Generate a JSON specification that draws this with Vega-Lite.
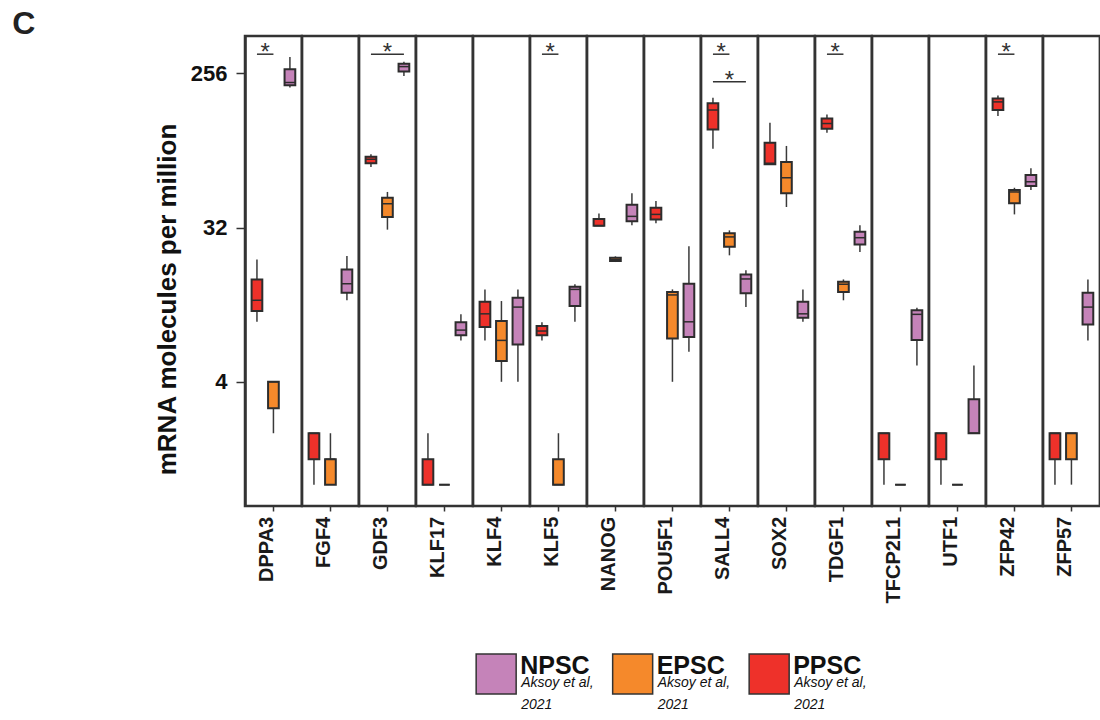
{
  "$schema": "https://vega.github.io/schema/vega-lite/v6.json",
  "padding": {"left": 12, "top": 7, "right": 0, "bottom": 0},
  "background": "white",
  "title": {"text": "C", "anchor": "start", "frame": "bounds", "fontSize": 32, "fontWeight": "bold", "color": "#222222", "dx": -142, "offset": -6},
  "datasets": {
    "main": [
      {"kind": "box", "gene": "DPPA3", "group": "PPSC", "min": 9.0, "q1": 10.4, "median": 12.0, "q3": 15.9, "max": 20.8},
      {"kind": "box", "gene": "DPPA3", "group": "EPSC", "min": 2.0, "q1": 2.8, "median": 4.0, "q3": 4.0, "max": 4.0},
      {"kind": "box", "gene": "DPPA3", "group": "NPSC", "min": 211, "q1": 218, "median": 226, "q3": 270, "max": 319},
      {"kind": "box", "gene": "FGF4", "group": "PPSC", "min": 1, "q1": 1.41, "median": 2, "q3": 2, "max": 2},
      {"kind": "box", "gene": "FGF4", "group": "EPSC", "min": 1, "q1": 1, "median": 1.41, "q3": 1.41, "max": 2},
      {"kind": "box", "gene": "FGF4", "group": "NPSC", "min": 12.0, "q1": 13.3, "median": 15.0, "q3": 18.2, "max": 21.8},
      {"kind": "box", "gene": "GDF3", "group": "PPSC", "min": 72.4, "q1": 76.1, "median": 80.3, "q3": 83.1, "max": 85.9},
      {"kind": "box", "gene": "GDF3", "group": "EPSC", "min": 31.1, "q1": 36.9, "median": 44.1, "q3": 47.8, "max": 51.7},
      {"kind": "box", "gene": "GDF3", "group": "NPSC", "min": 247, "q1": 262, "median": 280, "q3": 291, "max": 299},
      {"kind": "box", "gene": "KLF17", "group": "PPSC", "min": 1, "q1": 1, "median": 1, "q3": 1.41, "max": 2},
      {"kind": "box", "gene": "KLF17", "group": "EPSC", "min": 1, "q1": 1, "median": 1, "q3": 1, "max": 1},
      {"kind": "box", "gene": "KLF17", "group": "NPSC", "min": 6.99, "q1": 7.48, "median": 8.03, "q3": 8.94, "max": 9.93},
      {"kind": "box", "gene": "KLF4", "group": "PPSC", "min": 6.99, "q1": 8.36, "median": 10.0, "q3": 11.76, "max": 13.9},
      {"kind": "box", "gene": "KLF4", "group": "EPSC", "min": 4.0, "q1": 5.29, "median": 6.99, "q3": 9.07, "max": 11.88},
      {"kind": "box", "gene": "KLF4", "group": "NPSC", "min": 4.0, "q1": 6.62, "median": 10.95, "q3": 12.4, "max": 13.9},
      {"kind": "box", "gene": "KLF5", "group": "PPSC", "min": 6.99, "q1": 7.48, "median": 7.93, "q3": 8.48, "max": 8.94},
      {"kind": "box", "gene": "KLF5", "group": "EPSC", "min": 1, "q1": 1, "median": 1, "q3": 1.41, "max": 2},
      {"kind": "box", "gene": "KLF5", "group": "NPSC", "min": 8.98, "q1": 11.1, "median": 13.9, "q3": 14.4, "max": 14.9},
      {"kind": "box", "gene": "NANOG", "group": "PPSC", "min": 32.8, "q1": 32.8, "median": 32.8, "q3": 35.9, "max": 38.7},
      {"kind": "box", "gene": "NANOG", "group": "EPSC", "min": 20.1, "q1": 20.4, "median": 20.8, "q3": 21.3, "max": 21.7},
      {"kind": "box", "gene": "NANOG", "group": "NPSC", "min": 33.0, "q1": 34.8, "median": 37.2, "q3": 43.5, "max": 50.8},
      {"kind": "box", "gene": "POU5F1", "group": "PPSC", "min": 33.9, "q1": 35.7, "median": 38.2, "q3": 41.8, "max": 45.8},
      {"kind": "box", "gene": "POU5F1", "group": "EPSC", "min": 4.0, "q1": 7.18, "median": 12.9, "q3": 13.4, "max": 13.9},
      {"kind": "box", "gene": "POU5F1", "group": "NPSC", "min": 6.0, "q1": 7.31, "median": 8.98, "q3": 15.0, "max": 24.9},
      {"kind": "box", "gene": "SALL4", "group": "PPSC", "min": 92.6, "q1": 120, "median": 156, "q3": 171, "max": 184},
      {"kind": "box", "gene": "SALL4", "group": "EPSC", "min": 22.0, "q1": 24.7, "median": 28.2, "q3": 29.6, "max": 30.8},
      {"kind": "box", "gene": "SALL4", "group": "NPSC", "min": 10.95, "q1": 13.2, "median": 16.0, "q3": 17.0, "max": 17.97},
      {"kind": "box", "gene": "SOX2", "group": "PPSC", "min": 75.0, "q1": 75.0, "median": 76.0, "q3": 100.4, "max": 131.5},
      {"kind": "box", "gene": "SOX2", "group": "EPSC", "min": 42.2, "q1": 50.8, "median": 62.6, "q3": 77.4, "max": 96.1},
      {"kind": "box", "gene": "SOX2", "group": "NPSC", "min": 8.98, "q1": 9.48, "median": 10.0, "q3": 11.76, "max": 13.9},
      {"kind": "box", "gene": "TDGF1", "group": "PPSC", "min": 115, "q1": 121, "median": 130, "q3": 139, "max": 147},
      {"kind": "box", "gene": "TDGF1", "group": "EPSC", "min": 12.0, "q1": 13.4, "median": 14.9, "q3": 15.4, "max": 15.9},
      {"kind": "box", "gene": "TDGF1", "group": "NPSC", "min": 23.0, "q1": 25.5, "median": 27.9, "q3": 30.2, "max": 33.0},
      {"kind": "box", "gene": "TFCP2L1", "group": "PPSC", "min": 1, "q1": 1.41, "median": 2, "q3": 2, "max": 2},
      {"kind": "box", "gene": "TFCP2L1", "group": "EPSC", "min": 1, "q1": 1, "median": 1, "q3": 1, "max": 1},
      {"kind": "box", "gene": "TFCP2L1", "group": "NPSC", "min": 4.99, "q1": 7.02, "median": 9.93, "q3": 10.5, "max": 10.85},
      {"kind": "box", "gene": "UTF1", "group": "PPSC", "min": 1, "q1": 1.41, "median": 2, "q3": 2, "max": 2},
      {"kind": "box", "gene": "UTF1", "group": "EPSC", "min": 1, "q1": 1, "median": 1, "q3": 1, "max": 1},
      {"kind": "box", "gene": "UTF1", "group": "NPSC", "min": 2, "q1": 2, "median": 2, "q3": 3.16, "max": 4.99},
      {"kind": "box", "gene": "ZFP42", "group": "PPSC", "min": 144, "q1": 156, "median": 174, "q3": 182, "max": 190},
      {"kind": "box", "gene": "ZFP42", "group": "EPSC", "min": 38.2, "q1": 44.4, "median": 51.7, "q3": 53.1, "max": 54.7},
      {"kind": "box", "gene": "ZFP42", "group": "NPSC", "min": 53.1, "q1": 56.0, "median": 59.3, "q3": 65.0, "max": 71.1},
      {"kind": "box", "gene": "ZFP57", "group": "PPSC", "min": 1, "q1": 1.41, "median": 2, "q3": 2, "max": 2},
      {"kind": "box", "gene": "ZFP57", "group": "EPSC", "min": 1, "q1": 1.41, "median": 2, "q3": 2, "max": 2},
      {"kind": "box", "gene": "ZFP57", "group": "NPSC", "min": 6.99, "q1": 8.67, "median": 10.95, "q3": 13.3, "max": 15.9},
      {"kind": "sig", "gene": "DPPA3", "from": "PPSC", "to": "EPSC", "level": 331, "label": "*"},
      {"kind": "sig", "gene": "GDF3", "from": "PPSC", "to": "NPSC", "level": 331, "label": "*"},
      {"kind": "sig", "gene": "KLF5", "from": "PPSC", "to": "EPSC", "level": 331, "label": "*"},
      {"kind": "sig", "gene": "SALL4", "from": "PPSC", "to": "EPSC", "level": 331, "label": "*"},
      {"kind": "sig", "gene": "SALL4", "from": "PPSC", "to": "NPSC", "level": 228, "label": "*"},
      {"kind": "sig", "gene": "TDGF1", "from": "PPSC", "to": "EPSC", "level": 331, "label": "*"},
      {"kind": "sig", "gene": "ZFP42", "from": "PPSC", "to": "EPSC", "level": 331, "label": "*"}
    ],
    "legend": [
      {"group": "NPSC", "citation": "Aksoy et al,\n2021"},
      {"group": "EPSC", "citation": "Aksoy et al,\n2021"},
      {"group": "PPSC", "citation": "Aksoy et al,\n2021"}
    ]
  },
  "spacing": 47,
  "vconcat": [
    {
      "data": {"name": "main"},
      "facet": {
        "column": {
          "field": "gene", "type": "nominal",
          "sort": ["DPPA3", "FGF4", "GDF3", "KLF17", "KLF4", "KLF5", "NANOG", "POU5F1", "SALL4", "SOX2", "TDGF1", "TFCP2L1", "UTF1", "ZFP42", "ZFP57"],
          "header": {"title": null, "labelOrient": "bottom", "labelAngle": -90, "labelAlign": "right", "labelBaseline": "alphabetic", "labelFontSize": 20, "labelFontWeight": "bold", "labelColor": "#1a1a1a", "labelPadding": 5}
        }
      },
      "spacing": {"column": 0},
      "bounds": "flush",
      "spec": {
        "width": 56.87,
        "height": 470,
        "layer": [
          {
            "transform": [{"filter": "datum.kind === 'box'"}],
            "mark": {"type": "rule", "color": "#3a3a3a", "strokeWidth": 1.5},
            "encoding": {
              "x": {"field": "group", "type": "nominal", "scale": {"domain": ["PPSC", "EPSC", "NPSC"], "paddingInner": 0.35, "paddingOuter": 0.4}, "axis": {"values": ["EPSC"]}},
              "y": {"field": "min", "type": "quantitative", "title": "mRNA molecules per million", "scale": {"type": "log", "base": 2, "domain": [0.75, 423], "nice": false}, "axis": {"values": [4, 32, 256], "titleY": 263}},
              "y2": {"field": "max"}
            }
          },
          {
            "transform": [{"filter": "datum.kind === 'box'"}],
            "mark": {"type": "bar", "stroke": "#2d2d2d", "strokeWidth": 2, "opacity": 1},
            "encoding": {
              "x": {"field": "group", "type": "nominal"},
              "y": {"field": "q1", "type": "quantitative", "title": "mRNA molecules per million"},
              "y2": {"field": "q3"},
              "color": {"field": "group", "type": "nominal", "scale": {"domain": ["NPSC", "EPSC", "PPSC"], "range": ["#C583B9", "#F5892B", "#EE312A"]}, "legend": null}
            }
          },
          {
            "transform": [{"filter": "datum.kind === 'box'"}],
            "mark": {"type": "tick", "color": "#2d2d2d", "thickness": 1.5, "size": 10, "opacity": 1},
            "encoding": {
              "x": {"field": "group", "type": "nominal"},
              "y": {"field": "median", "type": "quantitative", "title": "mRNA molecules per million"}
            }
          },
          {
            "transform": [{"filter": "datum.kind === 'sig'"}],
            "mark": {"type": "rule", "color": "#333333", "strokeWidth": 1.5},
            "encoding": {
              "x": {"field": "from", "type": "nominal"},
              "x2": {"field": "to"},
              "y": {"field": "level", "type": "quantitative", "title": "mRNA molecules per million"}
            }
          },
          {
            "transform": [{"filter": "datum.kind === 'sig' && datum.to === 'EPSC'"}],
            "mark": {"type": "text", "color": "#333333", "fontSize": 24, "baseline": "alphabetic", "dx": 8.25, "dy": 6},
            "encoding": {
              "x": {"field": "from", "type": "nominal"},
              "y": {"field": "level", "type": "quantitative", "title": "mRNA molecules per million"},
              "text": {"field": "label"}
            }
          },
          {
            "transform": [{"filter": "datum.kind === 'sig' && datum.to === 'NPSC'"}],
            "mark": {"type": "text", "color": "#333333", "fontSize": 24, "baseline": "alphabetic", "dx": 16.5, "dy": 6},
            "encoding": {
              "x": {"field": "from", "type": "nominal"},
              "y": {"field": "level", "type": "quantitative", "title": "mRNA molecules per million"},
              "text": {"field": "label"}
            }
          }
        ]
      }
    },
    {
      "data": {"name": "legend"},
      "width": 682.5,
      "height": 40,
      "view": {"stroke": null},
      "encoding": {
        "x": {"field": "group", "type": "nominal", "sort": null, "scale": {"type": "band", "paddingInner": 0, "paddingOuter": 1, "align": 0.67}, "axis": null}
      },
      "layer": [
        {
          "mark": {"type": "square", "size": 1600, "filled": true, "opacity": 1, "stroke": "#333333", "strokeWidth": 1.5},
          "encoding": {
            "color": {"field": "group", "type": "nominal", "scale": {"domain": ["NPSC", "EPSC", "PPSC"], "range": ["#C583B9", "#F5892B", "#EE312A"]}, "legend": null}
          }
        },
        {
          "mark": {"type": "text", "align": "left", "baseline": "alphabetic", "dx": 24, "fontSize": 25, "fontWeight": "bold", "color": "#111111"},
          "encoding": {"text": {"field": "group"}}
        },
        {
          "mark": {"type": "text", "align": "left", "baseline": "alphabetic", "dx": 25, "dy": 13, "fontSize": 14, "fontStyle": "italic", "lineBreak": "\n", "lineHeight": 22, "color": "#111111"},
          "encoding": {"text": {"field": "citation"}}
        }
      ]
    }
  ],
  "config": {
    "font": "Liberation Sans",
    "view": {"stroke": "#333333", "strokeWidth": 2.5},
    "axisX": {"labels": false, "domain": false, "ticks": true, "tickSize": 5, "tickColor": "#333333", "tickWidth": 1.5, "title": null, "grid": false},
    "axisY": {"grid": false, "domain": true, "domainColor": "#333333", "domainWidth": 2.5, "tickColor": "#333333", "tickWidth": 1.5, "tickSize": 9, "labelFontSize": 22, "labelFontWeight": "bold", "labelColor": "#111111", "labelPadding": 9, "titleFontSize": 26, "titleFontWeight": "bold", "titleColor": "#111111", "titlePadding": 10}
  }
}
